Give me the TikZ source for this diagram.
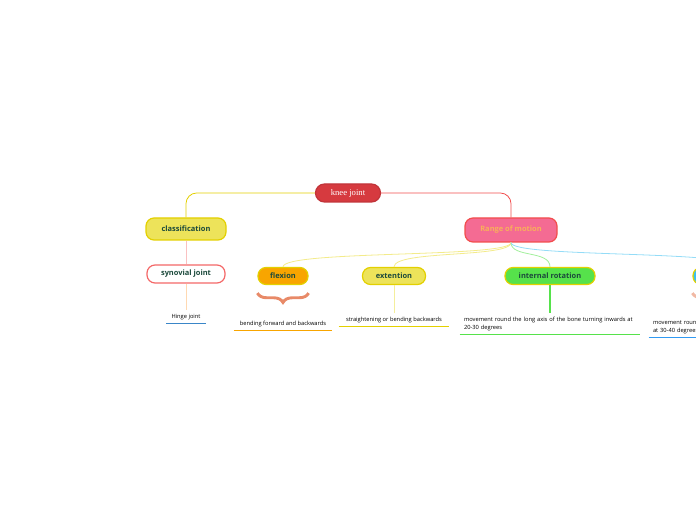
\documentclass[tikz,border=0pt]{standalone}
\usepackage{fontspec}
\setmainfont{Open Sans}
\newfontfamily\kneefont{Liberation Serif}
\usetikzlibrary{positioning, calc, decorations.pathreplacing}

\definecolor{kneefill}{HTML}{D63A3F}
\definecolor{yelfill}{HTML}{EDE35A}
\definecolor{yeldraw}{HTML}{E3D000}
\definecolor{pinkfill}{HTML}{F46B93}
\definecolor{pinkdraw}{HTML}{F24D4D}
\definecolor{pinktext}{HTML}{F8B05A}
\definecolor{orfill}{HTML}{F8A500}
\definecolor{grfill}{HTML}{56E24B}
\definecolor{cyfill}{HTML}{3CC0F0}
\definecolor{hingeblue}{HTML}{3A86C8}
\definecolor{labtext}{HTML}{1C4A3C}
\definecolor{bracecol}{HTML}{E88A68}

\begin{document}
\begin{tikzpicture}[x=0.75pt, y=-0.75pt,
    topic/.style={rounded corners=6pt, inner sep=0pt, line width=0.9pt,
        font=\fontsize{5.6}{7}\selectfont\bfseries, text=labtext},
    sub/.style={topic, minimum height=12.75pt, draw=yeldraw},
    leaf/.style={font=\fontsize{4.3}{6}\selectfont, inner xsep=0pt, inner ysep=2.6pt, text=black},
    uline/.style={line width=1.1pt},
    link/.style={line width=0.6pt}]
    \useasboundingbox (0,0) rectangle (696,520);
    \clip (0,0) rectangle (696,520);

    % central topic
    \node[topic, fill=kneefill, draw=kneefill!90!black, minimum width=48.75pt, minimum height=13.5pt,
        rounded corners=6.75pt, font=\kneefont\fontsize{6.5}{8}\selectfont, text=white] (knee) at (348,193) {knee joint};

    % main branches
    \node[topic, fill=yelfill, draw=yeldraw, minimum width=60pt, minimum height=16.5pt] (class) at (186,229) {classification};
    \node[topic, fill=pinkfill, draw=pinkdraw, text=pinktext, minimum width=69pt, minimum height=18pt] (range) at (511,230) {Range of motion};

    \draw[link, yeldraw, rounded corners=8pt] (knee.west) -| (class.north);
    \draw[link, pinkdraw, rounded corners=8pt] (knee.east) -| (range.north);

    % classification side
    \node[topic, fill=white, draw=pinkdraw!85, minimum width=58.5pt, minimum height=13.5pt] (synovial) at (186,274) {synovial joint};
    \node[leaf, minimum width=29.25pt] (hinge) at (186,317) {Hinge joint};
    \draw[uline, hingeblue] (hinge.south west) -- (hinge.south east);

    \draw[link, pinkdraw!35] (class.south) -- (synovial.north);
    \draw[link, orange!30] (synovial.south) -- (hinge.north);

    % range of motion side
    \node[sub, fill=orfill, minimum width=37.5pt] (flexion) at (283,276) {flexion};
    \node[sub, fill=yelfill, minimum width=47.25pt] (extention) at (394,276) {extention};
    \node[sub, fill=grfill, minimum width=67.5pt] (internal) at (550,276) {internal rotation};
    \node[sub, fill=cyfill, minimum width=67.5pt] (external) at (738,276) {external rotation};

    \draw[link, yelfill!70] (range.south) .. controls (511,258) and (283,250) .. (flexion.north);
    \draw[link, yelfill!70] (range.south) .. controls (511,258) and (394,250) .. (extention.north);
    \draw[link, grfill!55] (range.south) .. controls (511,258) and (550,250) .. (internal.north);
    \draw[link, cyfill!55] (range.south) .. controls (511,258) and (738,250) .. (external.north);

    \node[leaf, minimum width=73.5pt] (bending) at (283,324) {bending forward and backwards};
    \draw[uline, orfill] (bending.south west) -- (bending.south east);
    \draw[line width=2.2pt, bracecol, decorate, decoration={brace, mirror, amplitude=7pt}]
        ([yshift=-6pt]flexion.south west) -- ([yshift=-6pt]flexion.south east);

    \node[leaf, minimum width=82.5pt] (straight) at (394,320) {straightening or bending backwards};
    \draw[uline, yeldraw] (straight.south west) -- (straight.south east);
    \draw[link, yelfill!60] (extention.south) -- (straight.north);

    \node[leaf, text width=129pt, align=left, inner xsep=3pt] (inward) at (550,324)
        {movement round the long axis of the bone turning inwards at 20-30 degrees};
    \draw[uline, grfill] (inward.south west) -- (inward.south east);
    \draw[line width=1.1pt, grfill] (internal.south) -- (inward.north);

    \node[leaf, text width=129pt, align=left, inner xsep=3pt] (outward) at (739,327)
        {movement round the long axis of the bone turning outwards\\ at 30-40 degrees};
    \draw[uline, cyfill!80!blue] (outward.south west) -- (outward.south east);
    \draw[line width=2.2pt, bracecol!60, decorate, decoration={brace, mirror, amplitude=7pt}]
        ([yshift=-6pt]external.south west) -- ([yshift=-6pt]external.south east);
\end{tikzpicture}
\end{document}
